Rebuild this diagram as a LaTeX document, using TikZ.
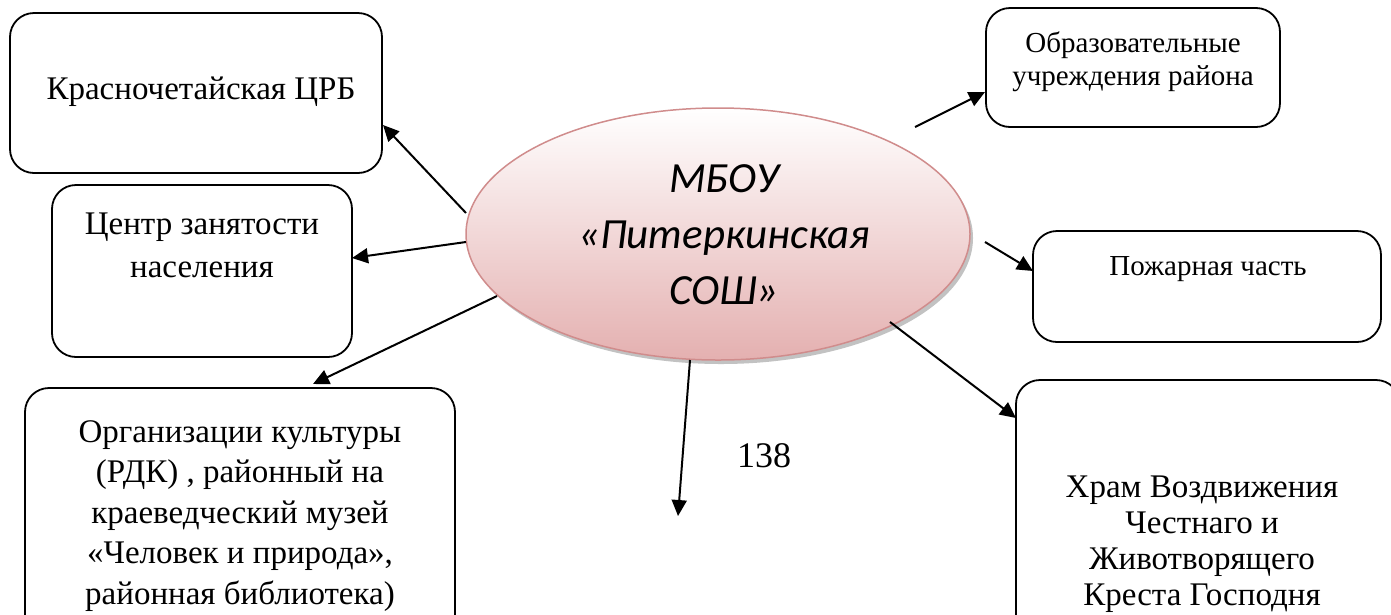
\documentclass[tikz,border=0pt]{standalone}
\usepackage{fontspec}
\setmainfont{Liberation Serif}
\newfontfamily\ellfont{Carlito}
\usetikzlibrary{arrows.meta,shadows}
\definecolor{ellborder}{HTML}{D08C8C}
\definecolor{ellbottom}{HTML}{E4B0B0}
\tikzset{
  box/.style={draw=black, line width=1.8pt, rounded corners=24pt},
  boxtext/.style={align=center, font=\fontsize{33}{40.5}\selectfont},
  conn/.style={line width=2pt, -{Triangle[length=16pt,width=15pt]}}
}
\begin{document}
\begin{tikzpicture}[x=1pt,y=-1pt]
\useasboundingbox (0,0) rectangle (1391,614);
% boxes
\draw[box] (10,13) rectangle (382,173);
\node[boxtext] (crb) at (201,92) {Красночетайская ЦРБ};
\coordinate (crbA) at (383,125);
\draw[box] (52,185) rectangle (352,357);
\node[boxtext, font=\fontsize{33}{43}\selectfont] (czn) at (202,245) {Центр занятости\\населения};
\coordinate (cznA) at (352,258);
\draw[box] (25,388) rectangle (455,640);
\node[boxtext] (org) at (240,516) {Организации культуры\\(РДК) , районный на\\краеведческий музей\\«Человек и природа»,\\районная библиотека)};
\coordinate (orgA) at (313,384);
\draw[box] (986,8) rectangle (1280,127);
\node[boxtext, font=\fontsize{29}{33}\selectfont] (obr) at (1133,62) {Образовательные\\учреждения района};
\coordinate (obrA) at (985,92);
\draw[box] (1033,231) rectangle (1381,342);
\node[boxtext, font=\fontsize{29}{33}\selectfont] (pozh) at (1208,269) {Пожарная часть};
\coordinate (pozhA) at (1033,271);
\draw[box] (1016,380) rectangle (1400,640);
\node[boxtext, font=\fontsize{33}{36}\selectfont] (hram) at (1202,544) {Храм Воздвижения\\Честнаго и\\Животворящего\\Креста Господня};
\coordinate (hramA) at (1016,418);
% ellipse
\fill[black!40, opacity=0.6] (721,238) ellipse [x radius=252pt, y radius=126pt];
\shade[top color=white, bottom color=ellbottom, draw=ellborder, line width=1.5pt]
  (718,234) ellipse [x radius=252pt, y radius=126pt];
\node[font=\ellfont\itshape\fontsize{43}{56}\selectfont, align=center] (mbou) at (724,235) {МБОУ\\«Питеркинская\\СОШ»};
\coordinate (e1) at (466,213);
\coordinate (e2) at (466,242);
\coordinate (e3) at (497,296);
\coordinate (e4) at (915,127);
\coordinate (e5) at (985,242);
\coordinate (e6) at (890,322);
\coordinate (e7) at (690,360);
\coordinate (free) at (678,516);
% connectors
\draw[conn] (e1) -- (crbA);
\draw[conn] (e2) -- (cznA);
\draw[conn] (e3) -- (orgA);
\draw[conn] (e4) -- (obrA);
\draw[conn] (e5) -- (pozhA);
\draw[conn] (e6) -- (hramA);
\draw[conn] (e7) -- (free);
\node[font=\fontsize{36}{40}\selectfont] (pg) at (764,456) {138};
\end{tikzpicture}
\end{document}
